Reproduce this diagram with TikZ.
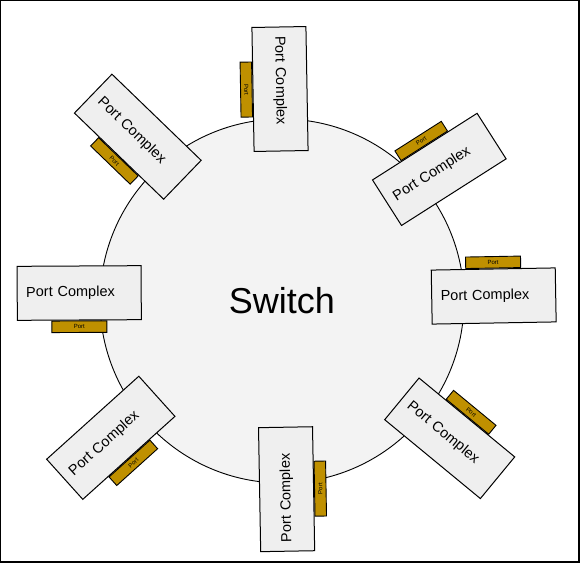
\documentclass[tikz,border=0pt]{standalone}
\usepackage{fontspec}
\setmainfont{Liberation Sans}
\usetikzlibrary{positioning}
\definecolor{frameink}{HTML}{000000}
\definecolor{switchfill}{HTML}{F3F3F3}
\definecolor{boxfill}{HTML}{EFEFEF}
\definecolor{portgold}{HTML}{BF9000}
\tikzset{
  frame/.style={draw=frameink, line width=1.4pt},
  %
  switch/.style={circle, draw=frameink, line width=0.9pt, fill=switchfill,
                 minimum size=364pt, inner sep=0pt,
                 font=\fontsize{36}{40}\selectfont},
  %
  pcbox/.style={draw=frameink, line width=1pt, fill=boxfill,
                minimum height=54pt, text width=106pt, inner xsep=9pt,
                inner ysep=0pt, align=left,
                font=\fontsize{14.5}{17}\selectfont},
  port/.style={draw=frameink, line width=0.9pt, fill=portgold,
               minimum width=55pt, minimum height=11.5pt, inner sep=0pt,
               font=\fontsize{6}{7}\selectfont},
}
\begin{document}
\begin{tikzpicture}[x=1pt, y=-1pt]
\useasboundingbox (0,0) rectangle (584,564);
\draw[frame] (0.75,0.75) rectangle (579,562);

% ---------------------------------------------------------------- switch
\node[switch] (sw) at (282,301) {Switch};

% --------------------------------------------------------- port complexes
\node[pcbox, rotate=-89] (pc1) at (280,89) {Port Complex};
\node[port, rotate=-89, below=0pt of pc1] (p1) {Port};

\node[pcbox, rotate=32.5] (pc2) at (439.3,169.4) {Port Complex};
\node[port, rotate=32.5, above=0pt of pc2] (p2) {Port};

\node[pcbox, rotate=1] (pc3) at (493.7,296) {Port Complex};
\node[port, rotate=1, above=0pt of pc3] (p3) {Port};

\node[pcbox, rotate=-39.5] (pc4) at (449.7,438.3) {Port Complex};
\node[port, rotate=-39.5, above=0pt of pc4] (p4) {Port};

\node[pcbox, rotate=91] (pc5) at (286.6,489.2) {Port Complex};
\node[port, rotate=91, below=0pt of pc5] (p5) {Port};

\node[pcbox, rotate=42] (pc6) at (110.8,437.8) {Port Complex};
\node[port, rotate=42, below=0pt of pc6] (p6) {Port};

\node[pcbox, rotate=0.3] (pc7) at (79.2,293) {Port Complex};
\node[port, rotate=0.3, below=0pt of pc7] (p7) {Port};

\node[pcbox, rotate=-44] (pc8) at (137.8,136.7) {Port Complex};
\node[port, rotate=-44, below=0pt of pc8] (p8) {Port};

\end{tikzpicture}
\end{document}
